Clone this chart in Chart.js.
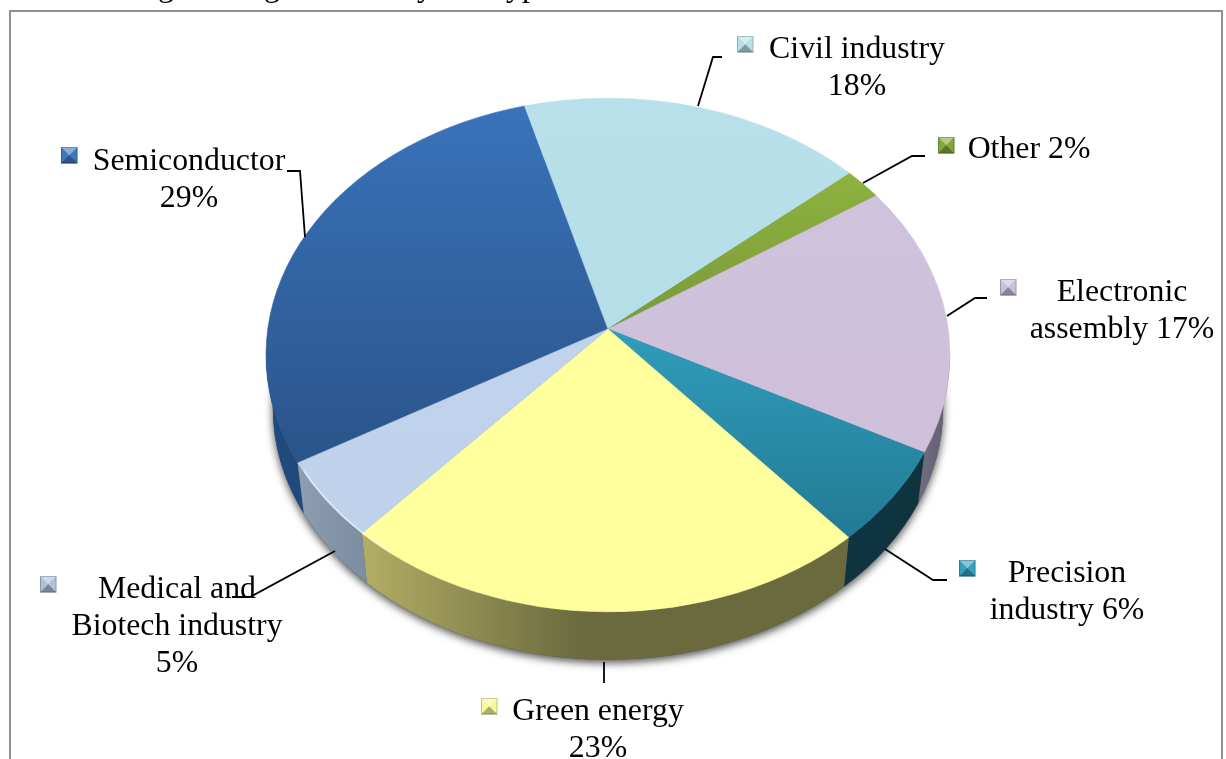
<!DOCTYPE html>
<html>
<head>
<meta charset="utf-8">
<title>Pie chart by type</title>
<script src="https://cdn.jsdelivr.net/npm/chart.js@4"></script>
<style>
  html, body { margin: 0; padding: 0; background: #fff; overflow: hidden; }
  canvas { display: block; }
</style>
</head>
<body>
<canvas id="grafica" width="1226" height="759"></canvas>
<script>
// Datos de la grafica
var categories = ['Semiconductor', 'Civil industry', 'Other', 'Electronic assembly', 'Precision industry', 'Green energy', 'Medical and Biotech industry'];
var values = [29, 18, 2, 17, 6, 23, 5];

// Colores: cara superior (arriba, abajo) y pared lateral (izq, der)
var faceTop = ['#3a72bb', '#b8e0ea', '#8db23f', '#cfc2dc', '#2f9dbb', '#ffff9d', '#c0d3ec'];
var faceBottom = ['#2a5489', '#b6dee8', '#7b9a39', '#cec0da', '#237a94', '#ffff9d', '#bfd2eb'];
var wallLeft = ['#1f4a7e', '#8aa6ad', '#5f7a2c', '#6f6a7e', '#103542', '#b3ae66', '#8e9db1'];
var wallRight = ['#1f4a7e', '#8aa6ad', '#5f7a2c', '#625e70', '#0f3440', '#6a6a3e', '#7d8da2'];
var keyColors = ['#3f76be', '#b8dfe9', '#84a63a', '#cbbed8', '#33a0bf', '#f8f89c', '#adc1da'];

// Textos de las etiquetas
var labelLines = [
  ['Semiconductor', '29%'],
  ['Civil industry', '18%'],
  ['Other 2%'],
  ['Electronic', 'assembly 17%'],
  ['Precision', 'industry 6%'],
  ['Green energy', '23%'],
  ['Medical and', 'Biotech industry', '5%']
];
var labelCenterX = [189, 857, 1029, 1122, 1067, 598, 177];
var labelBaseY = [170, 58, 158, 301, 582, 720, 598];
var keyX = [61, 737, 938, 1000, 959, 481, 40];
var keyY = [147, 36, 137, 279, 560, 698, 576];
var leaders = [
  [[287, 171], [300, 171], [305, 237]],
  [[722, 57], [713, 57], [698, 106]],
  [[925, 156], [912, 156], [863, 183]],
  [[987, 298], [975, 298], [947, 316]],
  [[947, 580], [933, 580], [885, 549]],
  [[604, 683], [604, 662]],
  [[232, 597], [250, 597], [335, 551]]
];

// Trozos de la linea de texto cortada arriba de la figura
var captionPieces = [['g', 158], ['g', 264], ['y', 417], ['yp', 506]];

var tilt = 0.751;        // alto/ancho de la elipse
var apexShift = -0.101;  // perspectiva: el centro del pastel sube
var depth = 0.155;       // baja la elipse inferior
var bottomScale = 0.98;
var fuente = '31.8px "Liberation Serif", "Times New Roman", serif';

// Pasa un angulo del pastel al angulo en la elipse con perspectiva
function anguloElipse(t) {
  var c = apexShift;
  var s = Math.sqrt(1 - c * c);
  var d = 1 + c * Math.sin(t);
  return Math.atan2((Math.sin(t) + c) / d, Math.cos(t) * s / d);
}

function pared(ctx, el, i, a1, a2) {
  var r = el.outerRadius;
  var ry = r * tilt;
  var y2 = el.y + r * depth;
  var grad = ctx.createLinearGradient(el.x + r * Math.cos(a2), 0, el.x + r * Math.cos(a1), 0);
  grad.addColorStop(0, wallLeft[i]);
  grad.addColorStop(i === 5 ? 0.45 : 1, wallRight[i]);
  grad.addColorStop(1, wallRight[i]);
  ctx.fillStyle = grad;
  ctx.beginPath();
  ctx.ellipse(el.x, el.y, r, ry, 0, a1, a2);
  ctx.ellipse(el.x, y2, r * bottomScale, ry * bottomScale, 0, a2, a1, true);
  ctx.closePath();
  ctx.fill();
}

var pastel3d = {
  id: 'pastel3d',
  beforeDatasetDraw: function(chart, args) {
    var ctx = chart.ctx;
    var arcs = chart.getDatasetMeta(args.index).data;
    var el0 = arcs[0];
    var r = el0.outerRadius;
    var ry = r * tilt;
    var apexX = el0.x;
    var apexY = el0.y + ry * apexShift;

    // sombra bajo el pastel
    ctx.save();
    ctx.shadowColor = 'rgba(0,0,0,0.7)';
    ctx.shadowBlur = 8;
    ctx.shadowOffsetY = 3;
    ctx.fillStyle = '#555';
    ctx.beginPath();
    ctx.ellipse(el0.x, el0.y + r * depth, r * bottomScale, ry * bottomScale, 0, 0, Math.PI * 2);
    ctx.fill();
    ctx.restore();

    // paredes, solo la mitad delantera
    arcs.forEach(function(el, i) {
      var a1 = anguloElipse(el.startAngle);
      var a2 = anguloElipse(el.endAngle);
      if (a1 < 0) a1 += Math.PI * 2;
      while (a2 < a1) a2 += Math.PI * 2;
      [0, Math.PI * 2].forEach(function(base) {
        var ini = Math.max(a1, base);
        var fin = Math.min(a2, base + Math.PI);
        if (fin > ini) pared(ctx, el, i, ini, fin);
      });
    });

    // cara superior, degradado segun el alto de cada rebanada
    arcs.forEach(function(el, i) {
      var a1 = anguloElipse(el.startAngle);
      var a2 = anguloElipse(el.endAngle);
      var y1 = el.y + ry * Math.sin(a1);
      var y2 = el.y + ry * Math.sin(a2);
      var grad = ctx.createLinearGradient(0, Math.min(y1, y2, apexY), 0, Math.max(y1, y2, apexY));
      grad.addColorStop(0, faceTop[i]);
      grad.addColorStop(1, faceBottom[i]);
      ctx.fillStyle = grad;
      ctx.strokeStyle = grad;
      ctx.lineWidth = 0.6;
      ctx.beginPath();
      ctx.moveTo(apexX, apexY);
      ctx.ellipse(el.x, el.y, r, ry, 0, a1, a2);
      ctx.closePath();
      ctx.fill();
      ctx.stroke();
    });

    // brillo del borde, solo delante
    ctx.save();
    ctx.beginPath();
    ctx.ellipse(el0.x, el0.y, r - 1, ry - 1, 0, Math.PI * 0.72, Math.PI * 0.85);
    ctx.strokeStyle = 'rgba(255,255,255,0.55)';
    ctx.lineWidth = 1.5;
    ctx.stroke();
    ctx.restore();
    return false;
  },
  afterDraw: function(chart) {
    var ctx = chart.ctx;
    ctx.save();

    // marco
    ctx.strokeStyle = '#8f8f8f';
    ctx.lineWidth = 2;
    ctx.beginPath();
    ctx.moveTo(10, 770);
    ctx.lineTo(10, 11);
    ctx.lineTo(1222, 11);
    ctx.lineTo(1222, 770);
    ctx.stroke();

    ctx.fillStyle = '#000';
    ctx.font = fuente;
    ctx.textAlign = 'left';
    ctx.textBaseline = 'alphabetic';
    captionPieces.forEach(function(p) { ctx.fillText(p[0], p[1], -4); });

    // lineas guia
    ctx.strokeStyle = '#000';
    ctx.lineWidth = 1.8;
    leaders.forEach(function(l) {
      ctx.beginPath();
      l.forEach(function(p, k) { k ? ctx.lineTo(p[0], p[1]) : ctx.moveTo(p[0], p[1]); });
      ctx.stroke();
    });

    // etiquetas
    ctx.textAlign = 'center';
    labelLines.forEach(function(lines, i) {
      lines.forEach(function(txt, k) {
        ctx.fillText(txt, labelCenterX[i], labelBaseY[i] + k * 37.2);
      });
    });

    // cuadritos con bisel
    keyColors.forEach(function(col, i) {
      var x = keyX[i], y = keyY[i], s = 16.5, m = s / 2;
      var tri = [
        [[x, y], [x + s, y], [x + m, y + m], 'rgba(255,255,255,0.4)'],
        [[x, y + s], [x + s, y + s], [x + m, y + m], 'rgba(0,0,0,0.3)']
      ];
      ctx.fillStyle = col;
      ctx.fillRect(x, y, s, s);
      tri.forEach(function(t) {
        ctx.fillStyle = t[3];
        ctx.beginPath();
        ctx.moveTo(t[0][0], t[0][1]);
        ctx.lineTo(t[1][0], t[1][1]);
        ctx.lineTo(t[2][0], t[2][1]);
        ctx.closePath();
        ctx.fill();
      });
      ctx.strokeStyle = 'rgba(0,0,0,0.2)';
      ctx.lineWidth = 1;
      ctx.strokeRect(x + 0.5, y + 0.5, s - 1, s - 1);
    });
    ctx.restore();
  }
};

new Chart(document.getElementById('grafica').getContext('2d'), {
  type: 'pie',
  data: {
    labels: categories,
    datasets: [{ data: values, backgroundColor: faceTop, borderWidth: 0 }]
  },
  options: {
    responsive: false,
    animation: false,
    rotation: -120,
    layout: { padding: { left: 266, right: 276, top: 13, bottom: 62 } },
    events: [],
    plugins: { legend: { display: false }, tooltip: { enabled: false } }
  },
  plugins: [pastel3d]
});
</script>
</body>
</html>
